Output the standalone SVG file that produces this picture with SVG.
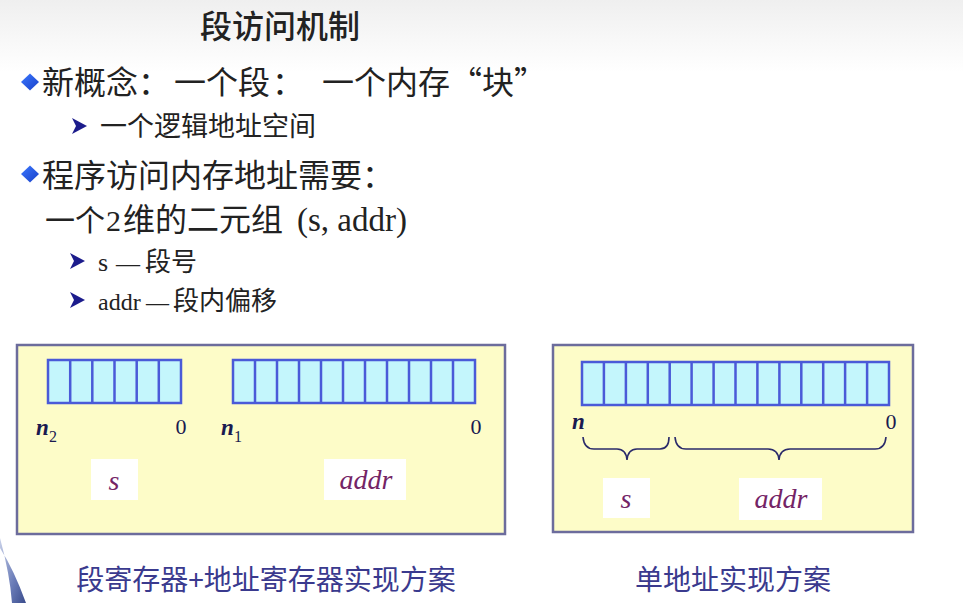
<svg xmlns="http://www.w3.org/2000/svg" width="963" height="603" viewBox="0 0 963 603">
<defs>
<linearGradient id="bg" x1="0" y1="0" x2="0" y2="1">
<stop offset="0" stop-color="#efefef"/>
<stop offset="0.12" stop-color="#ffffff"/>
<stop offset="1" stop-color="#ffffff"/>
</linearGradient>
<linearGradient id="swoosh" x1="0" y1="0" x2="1" y2="1">
<stop offset="0" stop-color="#c8d0e8"/>
<stop offset="0.6" stop-color="#6a7cb8"/>
<stop offset="1" stop-color="#3a4c8c"/>
</linearGradient>
<linearGradient id="dia" x1="0" y1="0" x2="1" y2="1">
<stop offset="0" stop-color="#3c78ff"/>
<stop offset="1" stop-color="#1840c8"/>
</linearGradient>
<polygon id="diamond" points="0,-8.5 9,0 0,8.5 -9,0" fill="url(#dia)"/>
<polygon id="arrow" points="-7,-8 8,0 -7,8 -3,0" fill="#1c1c8c"/>
</defs>
<style>
.cn{font-family:"Noto Sans CJK SC","Liberation Sans",sans-serif;fill:#222}
.lat{font-family:"Liberation Serif","Noto Sans CJK SC",serif;fill:#222}
.box{fill:#fdfcc8;stroke:#6c6c9c;stroke-width:2.5}
.reg{fill:#c4f6fc;stroke:#4a5ad8;stroke-width:2.5}
.sep{stroke:#4a5ad8;stroke-width:2.5;fill:none}
.lbl{font-family:"Liberation Serif",serif;font-style:italic;font-weight:bold;font-size:23px;fill:#1a1a50}
.num{font-family:"Liberation Serif",serif;font-size:22px;fill:#1a1a50}
.sub{font-family:"Liberation Serif",serif;font-size:16px;fill:#1a1a50}
.tag{fill:#ffffff}
.tagt{font-family:"Liberation Serif",serif;font-style:italic;font-size:28px;fill:#742466;text-anchor:middle}
.cap{font-family:"Noto Sans CJK SC","Liberation Sans",sans-serif;font-size:28px;fill:#3a3a8e;text-anchor:middle}
.brace{fill:none;stroke:#2a2a6a;stroke-width:1.6}
</style>
<rect x="0" y="0" width="963" height="603" fill="url(#bg)"/>
<path d="M0,538 Q10,575 12,603 L26,603 Q14,570 0,548 Z" fill="url(#swoosh)"/>

<g id="title">
<text class="cn" x="200" y="38" font-size="32" font-weight="500">段访问机制</text>
</g>

<g id="bullets">
<use href="#diamond" x="30" y="82"/>
<text class="cn" y="94" font-size="32"><tspan x="42">新概念：</tspan><tspan x="174">一个段</tspan><tspan x="272">：</tspan><tspan x="322">一个内存“块”</tspan></text>
<use href="#arrow" x="79" y="126"/>
<text class="cn" x="100" y="136" font-size="27" fill="#333">一个逻辑地址空间</text>
<use href="#diamond" x="30" y="174"/>
<text class="cn" x="42" y="187" font-size="32">程序访问内存地址需要：</text>
<text y="231"><tspan class="cn" x="45" font-size="30">一个</tspan><tspan class="lat" x="106" font-size="30">2</tspan><tspan class="cn" x="123" font-size="32">维的二元组</tspan><tspan class="lat" x="297" font-size="33">(s, addr)</tspan></text>
<use href="#arrow" x="77" y="261"/>
<text y="271"><tspan class="lat" x="98" font-size="26">s</tspan><tspan class="lat" x="116" font-size="24">—</tspan><tspan class="cn" x="145" font-size="26">段号</tspan></text>
<use href="#arrow" x="77" y="300"/>
<text y="310"><tspan class="lat" x="98" font-size="24">addr</tspan><tspan class="lat" x="146" font-size="23">—</tspan><tspan class="cn" x="173" font-size="26">段内偏移</tspan></text>
</g>

<g id="left-panel">
<rect class="box" x="17" y="345" width="488" height="189"/>
<rect class="reg" x="48" y="360" width="133" height="43"/>
<path class="sep" d="M70.2,360V403M92.3,360V403M114.5,360V403M136.7,360V403M158.8,360V403"/>
<rect class="reg" x="233" y="360" width="242" height="43"/>
<path class="sep" d="M255,360V403M277,360V403M299,360V403M321,360V403M343,360V403M365,360V403M387,360V403M409,360V403M431,360V403M453,360V403"/>
<text class="lbl" x="36" y="435">n</text><text class="sub" x="49" y="442">2</text>
<text class="num" x="181" y="434" text-anchor="middle">0</text>
<text class="lbl" x="221" y="435">n</text><text class="sub" x="234" y="442">1</text>
<text class="num" x="476" y="434" text-anchor="middle">0</text>
<rect class="tag" x="91" y="459" width="47" height="41"/>
<text class="tagt" x="114" y="490">s</text>
<rect class="tag" x="324" y="459" width="82" height="41"/>
<text class="tagt" x="366" y="489">addr</text>
<text class="cap" x="266" y="590">段寄存器+地址寄存器实现方案</text>
</g>

<g id="right-panel">
<rect class="box" x="553" y="345" width="360" height="187"/>
<rect class="reg" x="582" y="362" width="307" height="43"/>
<path class="sep" d="M603.9,362V405M625.9,362V405M647.8,362V405M669.7,362V405M691.6,362V405M713.6,362V405M735.5,362V405M757.4,362V405M779.4,362V405M801.3,362V405M823.2,362V405M845.1,362V405M867.1,362V405"/>
<text class="lbl" x="572" y="429">n</text>
<text class="num" x="891" y="429" text-anchor="middle">0</text>
<path class="brace" d="M583,437 Q584,449 594,449 L617,449 Q626,449 627,460 Q628,449 637,449 L660,449 Q669,449 669,437"/>
<path class="brace" d="M675,437 Q676,449 686,449 L768,449 Q778,449 779,460 Q780,449 790,449 L875,449 Q885,449 886,437"/>
<rect class="tag" x="603" y="478" width="47" height="40"/>
<text class="tagt" x="626" y="508">s</text>
<rect class="tag" x="739" y="478" width="83" height="42"/>
<text class="tagt" x="781" y="508">addr</text>
<text class="cap" x="733" y="590">单地址实现方案</text>
</g>
</svg>
